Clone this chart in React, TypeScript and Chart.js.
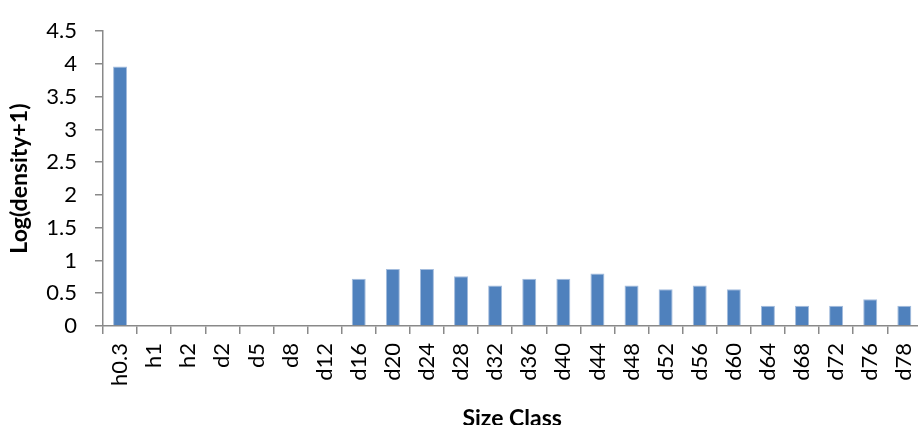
import { useEffect, useRef } from "react";
import { Chart, registerables } from "chart.js";

Chart.register(...registerables);

const categories = [
  "h0.3", "h1", "h2", "d2", "d5", "d8", "d12", "d16", "d20", "d24", "d28", "d32",
  "d36", "d40", "d44", "d48", "d52", "d56", "d60", "d64", "d68", "d72", "d76", "d78",
];
const densityLog = [
  3.96, 0, 0, 0, 0, 0, 0, 0.72, 0.87, 0.87, 0.76, 0.62,
  0.72, 0.72, 0.8, 0.62, 0.56, 0.62, 0.56, 0.31, 0.31, 0.31, 0.41, 0.31,
];
const yMin = 0;
const yMax = 4.5;
const yStep = 0.5;
const xTitle = "Size Class";
const yTitle = "Log(density+1)";

const CANVAS_W = 940;
const CANVAS_H = 440;

export default function App() {
  const ref = useRef<HTMLCanvasElement>(null);
  useEffect(() => {
    document.body.style.margin = "0";
    const axisColor = "#898989";
    const chart = new Chart(ref.current!, {
      type: "bar",
      data: {
        labels: categories,
        datasets: [
          {
            data: densityLog,
            backgroundColor: "#4F81BD",
            borderColor: "#a3bcdd",
            borderWidth: 1,
            barPercentage: 0.41,
            categoryPercentage: 1,
          },
        ],
      },
      options: {
        animation: false,
        responsive: false,
        layout: { padding: { top: 19, right: CANVAS_W - 926.5, left: 0, bottom: 0 } },
        plugins: { legend: { display: false }, tooltip: { enabled: false } },
        scales: {
          x: {
            grid: { drawOnChartArea: false, tickLength: 8, color: axisColor, lineWidth: 1.5, offset: true },
            border: { color: axisColor, width: 1.5 },
            ticks: {
              minRotation: 90,
              maxRotation: 90,
              autoSkip: false,
              font: { family: "Lato", size: 22 },
              color: "#000",
              padding: 9,
            },
            title: {
              display: true,
              text: xTitle,
              font: { family: "Lato", size: 23, weight: "bold" },
              color: "#000",
              padding: { top: 0, bottom: 8 },
            },
            afterFit: (s: any) => {
              s.height = CANVAS_H - 326;
            },
          },
          y: {
            min: yMin,
            max: yMax,
            grid: { drawOnChartArea: false, tickLength: 8, color: axisColor, lineWidth: 1.5 },
            border: { color: axisColor, width: 1.5 },
            ticks: {
              stepSize: yStep,
              font: { family: "Lato", size: 22 },
              color: "#000",
              padding: 18,
              callback: (v: any) => String(+v),
            },
            title: {
              display: true,
              text: yTitle,
              font: { family: "Lato", size: 23, weight: "bold" },
              color: "#000",
              padding: { top: 6, bottom: 0 },
            },
            afterFit: (s: any) => {
              s.width = 103;
            },
          },
        },
      },
    });
    return () => chart.destroy();
  }, []);
  return (
    <div
      style={{
        position: "fixed",
        left: 0,
        top: 0,
        width: 918,
        height: 425,
        overflow: "hidden",
        background: "#fff",
      }}
    >
      <canvas ref={ref} width={CANVAS_W} height={CANVAS_H} style={{ display: "block" }} />
    </div>
  );
}
